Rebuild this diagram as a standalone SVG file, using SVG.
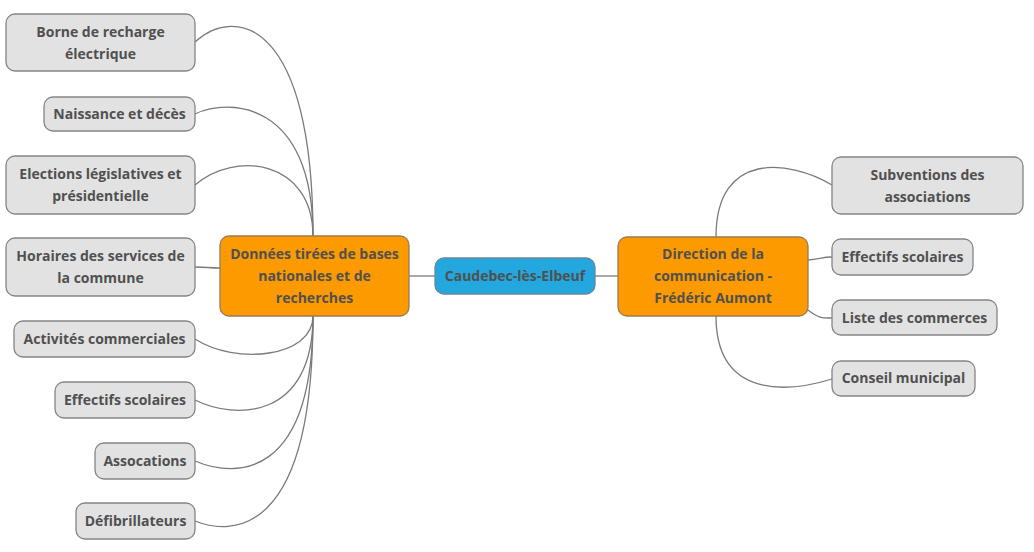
<svg xmlns="http://www.w3.org/2000/svg" width="1034" height="552" viewBox="0 0 1034 552">
<style>
.n rect{fill:#e2e2e2;stroke:#858585;stroke-width:1.3}
.o rect{fill:#fd9a00;stroke:#9a7a55;stroke-width:1.3}
.b rect{fill:#22a7df;stroke:#6a8798;stroke-width:1.3}
text{font-family:"Open Sans","Noto Sans","Liberation Sans",sans-serif;font-weight:bold;font-size:14px;fill:#505050;text-anchor:middle}
#connectors path{fill:none;stroke:#7a7a7a;stroke-width:1.3}
</style>
<rect width="1034" height="552" fill="#ffffff"/>
<g id="connectors">
<path d="M409,276 L435,276"/>
<path d="M595,276 L618,276"/>
<path d="M195,42 C235,5 313,20 313,236"/>
<path d="M195,114 C228,98 313,100 313,236"/>
<path d="M195,185 C235,150 313,160 313,236"/>
<path d="M195,267 C207,267 208,268 220,268"/>
<path d="M195,339 C235,365 313,358 313,316"/>
<path d="M195,400 C235,420 313,420 313,316"/>
<path d="M195,461 C235,478 313,480 313,316"/>
<path d="M195,521 C230,535 313,540 313,316"/>
<path d="M716,237 C716,150 790,160 832,185"/>
<path d="M808,260 C820,259 822,257 832,257"/>
<path d="M808,310 C818,318 822,318 832,318"/>
<path d="M716,316 C716,400 790,392 832,379"/>
</g>
<g id="root" class="b"><rect x="435" y="258" width="160" height="36" rx="9"/><text x="515" y="281">Caudebec-lès-Elbeuf</text></g>
<g id="donnees" class="o"><rect x="220" y="236" width="189" height="80" rx="9"/><text x="314.5" y="259">Données tirées de bases</text><text x="314.5" y="281">nationales et de</text><text x="314.5" y="303">recherches</text></g>
<g id="direction" class="o"><rect x="618" y="237" width="190" height="79" rx="9"/><text x="713" y="259">Direction de la</text><text x="713" y="281">communication -</text><text x="713" y="303">Frédéric Aumont</text></g>
<g id="borne" class="n"><rect x="6" y="14" width="189" height="57" rx="9"/><text x="100.5" y="37">Borne de recharge</text><text x="100.5" y="59">électrique</text></g>
<g id="naissance" class="n"><rect x="44" y="97" width="151" height="34" rx="9"/><text x="119.5" y="119">Naissance et décès</text></g>
<g id="elections" class="n"><rect x="6" y="156" width="189" height="58" rx="9"/><text x="100.5" y="179">Elections législatives et</text><text x="100.5" y="201">présidentielle</text></g>
<g id="horaires" class="n"><rect x="6" y="238" width="189" height="58" rx="9"/><text x="100.5" y="261">Horaires des services de</text><text x="100.5" y="283">la commune</text></g>
<g id="activites" class="n"><rect x="14" y="321" width="181" height="36" rx="9"/><text x="104.5" y="344">Activités commerciales</text></g>
<g id="effectifs-l" class="n"><rect x="55" y="382" width="140" height="36" rx="9"/><text x="125" y="405">Effectifs scolaires</text></g>
<g id="assocations" class="n"><rect x="95" y="443" width="100" height="36" rx="9"/><text x="145" y="466">Assocations</text></g>
<g id="defibrillateurs" class="n"><rect x="76" y="503" width="119" height="36" rx="9"/><text x="135.5" y="526">Défibrillateurs</text></g>
<g id="subventions" class="n"><rect x="832" y="157" width="191" height="57" rx="9"/><text x="927.5" y="180">Subventions des</text><text x="927.5" y="202">associations</text></g>
<g id="effectifs-r" class="n"><rect x="832" y="239" width="141" height="36" rx="9"/><text x="902.5" y="262">Effectifs scolaires</text></g>
<g id="liste" class="n"><rect x="832" y="300" width="165" height="35" rx="9"/><text x="914.5" y="323">Liste des commerces</text></g>
<g id="conseil" class="n"><rect x="832" y="361" width="143" height="35" rx="9"/><text x="903.5" y="383">Conseil municipal</text></g>
</svg>
